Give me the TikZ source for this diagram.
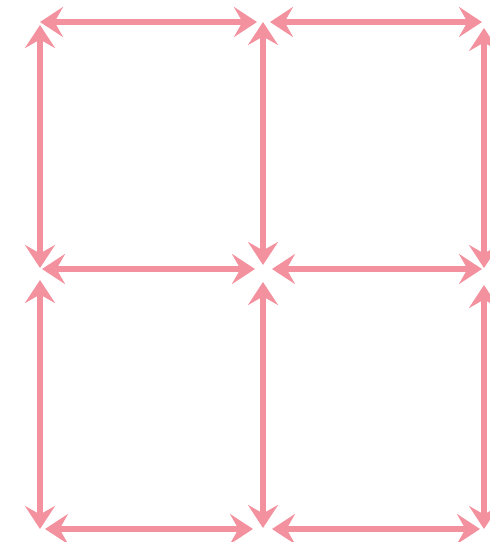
\documentclass[tikz,border=0pt]{standalone}
\usepackage{xcolor}
\usetikzlibrary{arrows.meta}
\definecolor{rosepink}{RGB}{243,146,158}
\tikzset{
  line cap=round,
  line join=round,
  dblarrow/.style={{Stealth[length=4.6mm,width=6mm,inset=1.7mm]}-{Stealth[length=4.6mm,width=6mm,inset=1.7mm]}, rosepink, line width=3pt}
}
\begin{document}
\begin{tikzpicture}[x=0.02cm,y=-0.02cm]
  \useasboundingbox (0,0) rectangle (490,542);

  % grid corners
  \coordinate (g00) at (40,22);
  \coordinate (g10) at (263,22);
  \coordinate (g20) at (484,22);
  \coordinate (g01) at (40,269);
  \coordinate (g11) at (263,269);
  \coordinate (g21) at (484,269);
  \coordinate (g02) at (40,529);
  \coordinate (g12) at (263,529);
  \coordinate (g22) at (484,529);

  % horizontal arrows
  \draw[dblarrow, shorten >=1.2mm] (g00) -- (g10);
  \draw[dblarrow, shorten <=1.4mm, shorten >=0.4mm] (g10) -- (g20);
  \draw[dblarrow, shorten <=0.4mm, shorten >=1.6mm] (g01) -- (g11);
  \draw[dblarrow, shorten <=1.8mm, shorten >=0.4mm] (g11) -- (g21);
  \draw[dblarrow, shorten <=1mm, shorten >=2mm] (g02) -- (g12);
  \draw[dblarrow, shorten <=1.8mm, shorten >=0.8mm] (g12) -- (g22);

  % vertical arrows
  \draw[dblarrow, shorten <=0.6mm, shorten >=0.2mm] (g00) -- (g01);
  \draw[dblarrow, shorten <=2.2mm] (g01) -- (g02);
  \draw[dblarrow, shorten >=0.8mm] (g10) -- (g11);
  \draw[dblarrow, shorten <=2.6mm, shorten >=0.2mm] (g11) -- (g12);
  \draw[dblarrow, shorten <=1.2mm, shorten >=0.2mm] (g20) -- (g21);
  \draw[dblarrow, shorten <=3.2mm] (g21) -- (g22);
\end{tikzpicture}
\end{document}
